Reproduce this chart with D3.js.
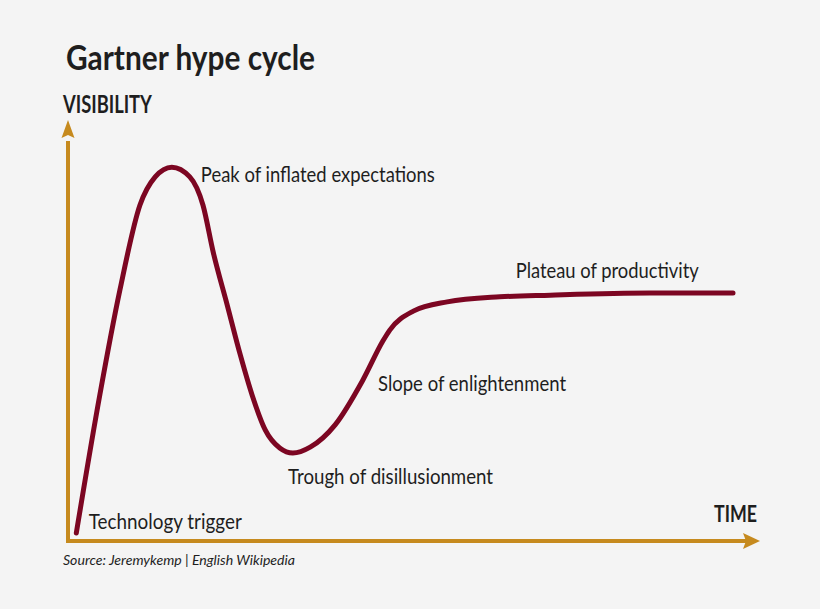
<!DOCTYPE html>
<html lang="en">
<head>
  <meta charset="UTF-8">
  <title>Gartner hype cycle</title>
  <style>
    body {
      margin: 0;
      background: #f4f4f4;
      overflow: hidden;
    }

    svg {
      font-family: 'Lato', 'Noto Sans', sans-serif;
      display: block;
    }

    svg text {
      fill: #1e1e1e;
    }
  </style>
</head>
<body>
  <svg width="820" height="609"></svg>

  <script src="https://d3js.org/d3.v7.min.js"></script>
  <script>
    // time (0-100) vs visibility (0-100)
    var time       = [1.2, 4.6, 7.5, 10.4, 12.6, 15.0, 17.6, 19.5, 21.0, 23.0, 24.9, 26.6, 28.5, 30.6, 32.5, 35.0, 38.6, 42.6, 45.5, 46.5, 49.9, 54.8, 62.4, 69.7, 84.1, 96.1];
    var visibility = [1.9, 34.7, 59.6, 79.8, 86.5, 88.8, 86.5, 79.8, 68.5, 56.1, 44.2, 34.7, 26.4, 22.1, 20.9, 22.3, 27.6, 38.2, 47.5, 50.1, 54.6, 56.8, 58.0, 58.4, 58.9, 58.9];

    var phases = ['Technology trigger', 'Peak of inflated expectations', 'Trough of disillusionment', 'Slope of enlightenment', 'Plateau of productivity'];
    // where each phase label sits, in time / visibility units
    var phaseTime = [3.0, 19.2, 31.8, 44.8, 64.7];
    var phaseVis  = [2.9, 85.3, 13.5, 35.6, 62.4];
    var phaseWidth = [153, 234, 205, 188, 183];

    var svg = d3.select('svg');

    var x = d3.scaleLinear().domain([0, 100]).range([68, 760]);
    var y = d3.scaleLinear().domain([0, 100]).range([541, 120]);

    var axisColor = '#c68a1e';
    var curveColor = '#7c0622';

    // title
    svg.append('text')
      .attr('x', 66).attr('y', 70)
      .attr('textLength', 249).attr('lengthAdjust', 'spacingAndGlyphs')
      .style('font-size', '34px').style('font-weight', 'bold')
      .text('Gartner hype cycle');

    svg.append('text')
      .attr('x', 63).attr('y', 113)
      .attr('textLength', 89).attr('lengthAdjust', 'spacingAndGlyphs')
      .style('font-size', '24px').style('font-weight', 'bold')
      .text('VISIBILITY');

    svg.append('text')
      .attr('x', 714).attr('y', 522)
      .attr('textLength', 43).attr('lengthAdjust', 'spacingAndGlyphs')
      .style('font-size', '23px').style('font-weight', 'bold')
      .text('TIME');

    // axes
    svg.append('path')
      .attr('stroke', axisColor)
      .attr('stroke-width', 4)
      .attr('fill', 'none')
      .attr('d', d3.line()([[x(0), y(95)], [x(0), y(0)], [x(98), y(0)]]));

    // arrow heads
    svg.append('path')
      .attr('fill', axisColor)
      .attr('d', 'M' + x(0) + ',' + y(100) + ' l6.5,18 l-6.5,-3 l-6.5,3 z');

    svg.append('path')
      .attr('fill', axisColor)
      .attr('d', 'M' + x(100) + ',' + y(0) + ' l-17,-8 l3,8 l-3,8 z');

    // hype curve
    var pts = time.map(function(t, i) { return [x(t), y(visibility[i])]; });

    svg.append('path')
      .attr('fill', 'none')
      .attr('stroke', curveColor)
      .attr('stroke-width', 5)
      .attr('stroke-linecap', 'round')
      .attr('d', d3.line().curve(d3.curveMonotoneX)(pts));

    // phase labels
    svg.append('g')
      .selectAll('text')
      .data(phases)
      .enter()
        .append('text')
        .attr('x', function(d, i) { return x(phaseTime[i]); })
        .attr('y', function(d, i) { return y(phaseVis[i]); })
        .attr('textLength', function(d, i) { return phaseWidth[i]; })
        .attr('lengthAdjust', 'spacingAndGlyphs')
        .style('font-size', '21px')
        .text(function(d) { return d; });

    svg.append('text')
      .attr('x', 63).attr('y', 565)
      .attr('textLength', 232).attr('lengthAdjust', 'spacingAndGlyphs')
      .style('font-size', '14px').style('font-style', 'italic')
      .text('Source: Jeremykemp | English Wikipedia');
  </script>
</body>
</html>
